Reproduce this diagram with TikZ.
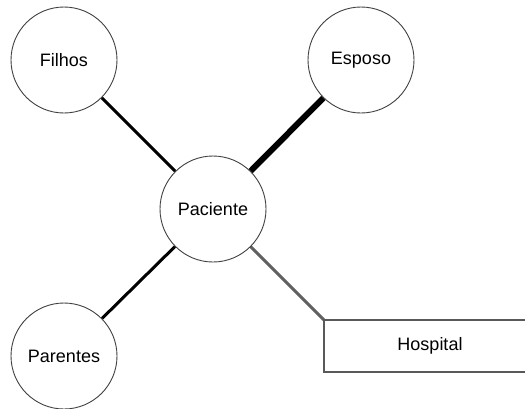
\documentclass[tikz,border=0pt]{standalone}
\usepackage{fontspec}
\setmainfont{Liberation Sans}
\usetikzlibrary{backgrounds}
\begin{document}
\begin{tikzpicture}[x=1pt,y=-1pt,
  labelfont/.style={font=\fontsize{18}{21}\selectfont},
  person/.style={circle,draw=black!75,line width=0.9pt,fill=white,
    minimum size=106pt,inner sep=0pt,labelfont},
  placeline/.style={draw=black!65,line width=1.3pt},
  placetext/.style={inner sep=0pt,labelfont},
  tie/.style={line width=3pt,black},
  strongtie/.style={line width=6pt,black},
  greytie/.style={line width=3pt,black!62}
]
\useasboundingbox (0,0) rectangle (525,408);

% people around the patient
\node[person] (pac) at (213,209) {Paciente};
\node[person] (fil) at (64,60) {Filhos};
\node[person] (esp) at (361,60) {Esposo};
\node[person] (par) at (64,356) {Parentes};

% the hospital box is open to the right edge
\coordinate (hostop) at (324,320);
\coordinate (hosbot) at (324,372);
\draw[placeline] (526,320) -- (hostop) -- (hosbot) -- (526,372);
\node[placetext] (hos) at (430,346) {Hospital};

% connectors
\begin{scope}[on background layer]
\draw[tie] (fil) -- (pac);
\draw[strongtie] (esp) -- (pac);
\draw[tie] (par) -- (pac);
\draw[greytie] (pac.center) -- (hostop);
\end{scope}
\end{tikzpicture}
\end{document}
